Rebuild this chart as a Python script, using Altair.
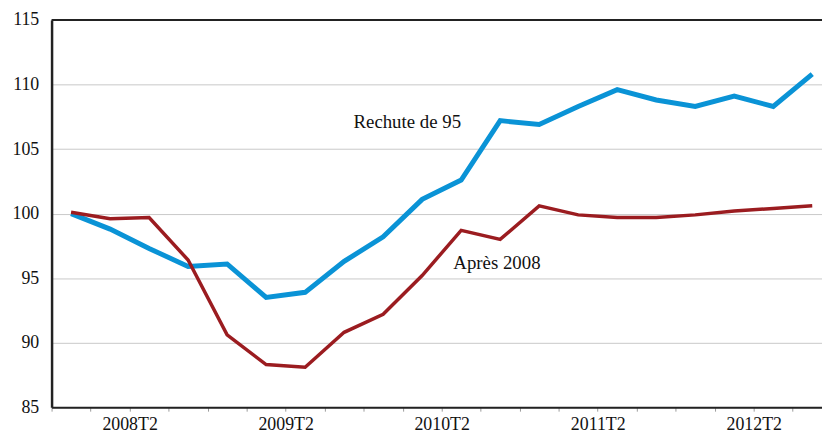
import altair as alt
import pandas as pd

quarters = ["2007T4", "2008T1", "2008T2", "2008T3", "2008T4",
            "2009T1", "2009T2", "2009T3", "2009T4",
            "2010T1", "2010T2", "2010T3", "2010T4",
            "2011T1", "2011T2", "2011T3", "2011T4",
            "2012T1", "2012T2", "2012T3"]
rechute = [100.0, 98.8, 97.3, 95.9, 96.1, 93.5, 93.9, 96.3, 98.2, 101.1,
           102.6, 107.2, 106.9, 108.3, 109.6, 108.8, 108.3, 109.1, 108.3, 110.8]
apres = [100.1, 99.6, 99.7, 96.4, 90.6, 88.3, 88.1, 90.8, 92.2, 95.2,
         98.7, 98.0, 100.6, 99.9, 99.7, 99.7, 99.9, 100.2, 100.4, 100.6]
series_names = ["Rechute de 95", "Après 2008"]
series_colors = ["#0a93d6", "#9b1c20"]
y_ticks = [85, 90, 95, 100, 105, 110, 115]
tick_labels = ["2008T2", "2009T2", "2010T2", "2011T2", "2012T2"]

# annotation positions (x in quarter index units, y in index value)
ann_text = ["Rechute de 95", "Après 2008"]
ann_x = [7.74, 10.3]
ann_y = [106.6, 95.7]

rows = []
for name, vals in zip(series_names, [rechute, apres]):
    for i, (q, v) in enumerate(zip(quarters, vals)):
        rows.append({"i": i, "pos": i + 0.5, "quarter": q, "series": name, "value": v})
df = pd.DataFrame(rows)

label_map = {i: q for i, q in enumerate(quarters) if q in tick_labels}
label_expr = "{" + ",".join(f"'{k}':'{v}'" for k, v in label_map.items()) + "}[datum.value] || ''"

font = "Liberation Serif"

xscale = alt.Scale(domain=[0, 19.75], nice=False, zero=False)
yscale = alt.Scale(domain=[85, 115], nice=False, zero=False)

xaxis = alt.Axis(values=list(range(len(quarters))), labelExpr=label_expr,
                 grid=False, domainColor="#222222", domainWidth=2,
                 tickColor="#9a9a9a", tickSize=4, tickWidth=1,
                 labelFont=font, labelFontSize=18, labelColor="#111111",
                 labelBaseline="alphabetic", labelPadding=19, labelAlign="center",
                 labelOverlap=False, labelFlush=False, title=None)
yaxis = alt.Axis(values=y_ticks, grid=True, gridColor="#c8c8c8", gridWidth=1,
                 domainColor="#222222", domainWidth=2.5, ticks=False,
                 labelFont=font, labelFontSize=18, labelColor="#111111",
                 labelPadding=13, labelBaseline="middle", title=None)

lines = alt.Chart(df).mark_line(strokeJoin="miter", strokeCap="butt").encode(
    x=alt.X("pos:Q", scale=xscale, axis=xaxis),
    y=alt.Y("value:Q", scale=yscale, axis=yaxis),
    color=alt.Color("series:N", scale=alt.Scale(domain=series_names, range=series_colors), legend=None),
    strokeWidth=alt.StrokeWidth("series:N", scale=alt.Scale(domain=series_names, range=[5, 3.5]), legend=None),
    order=alt.Order("i:Q"),
)

top_border = alt.Chart(pd.DataFrame({"y": [y_ticks[-1]]})).mark_rule(
    color="#222222", strokeWidth=2).encode(y=alt.Y("y:Q", scale=yscale))

ann = alt.Chart(pd.DataFrame({"t": ann_text, "x": ann_x, "y": ann_y})).mark_text(
    font=font, fontSize=19, align="left", baseline="alphabetic", color="#111111"
).encode(x=alt.X("x:Q", scale=xscale), y=alt.Y("y:Q", scale=yscale), text="t:N")

chart = alt.layer(top_border, lines, ann).properties(
    width=778, height=391,
    autosize=alt.AutoSizeParams(type="none"),
    padding={"left": 44, "top": 10, "right": 0, "bottom": 28},
).configure_view(stroke=None).configure(background="white")

chart.save("out.html", embed_options={"renderer": "svg", "actions": False})
